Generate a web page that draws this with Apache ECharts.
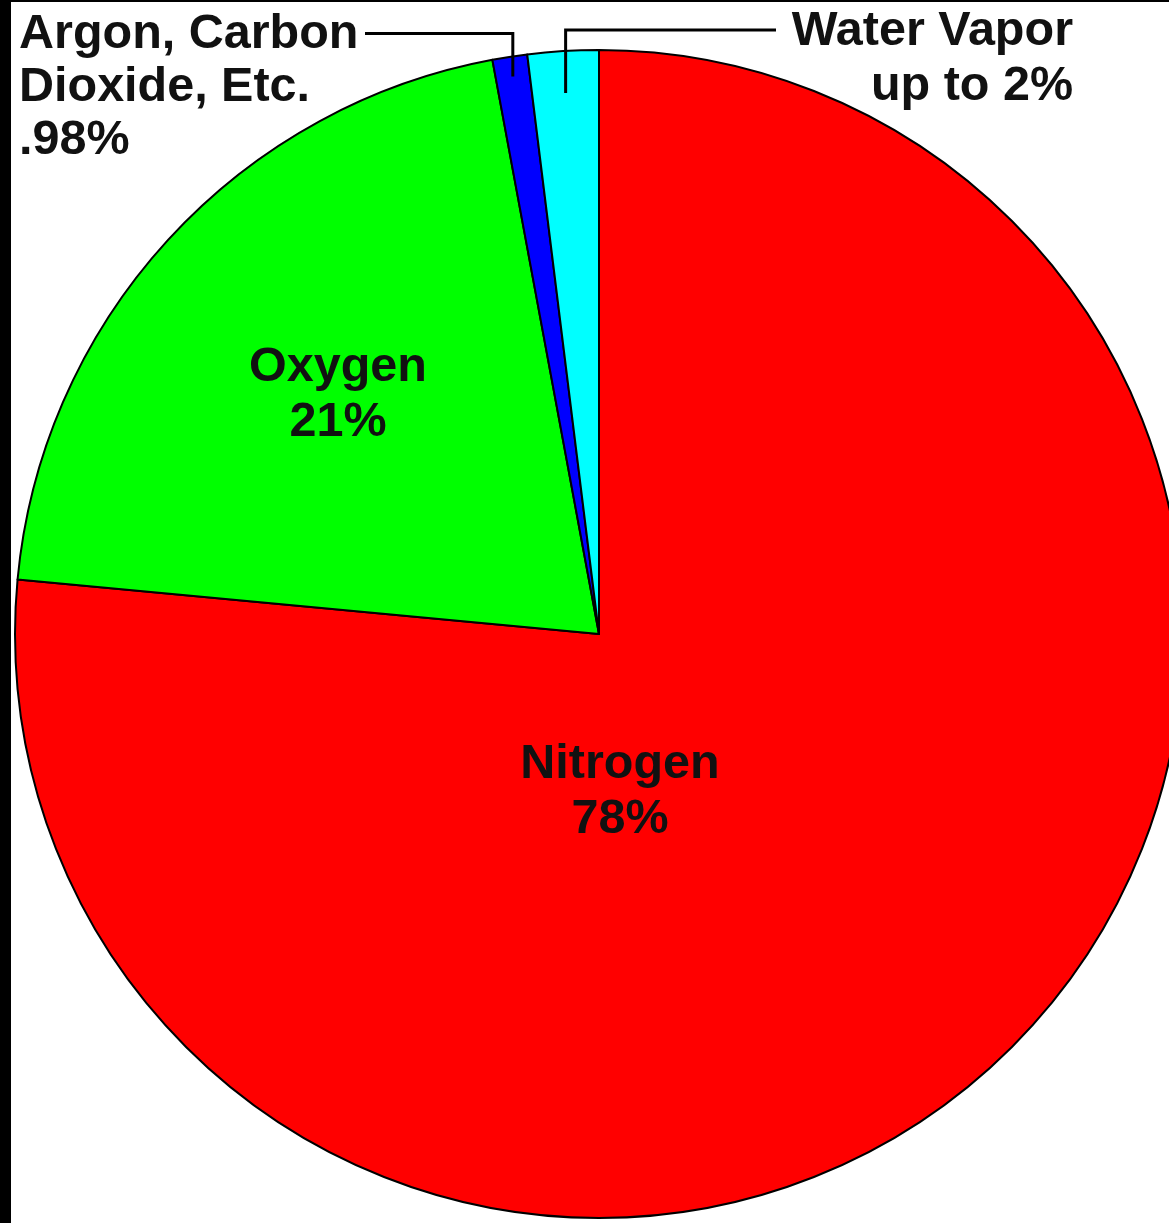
<!DOCTYPE html>
<html>
<head>
<meta charset="utf-8">
<script src="https://cdn.jsdelivr.net/npm/echarts@6/dist/echarts.min.js"></script>
<style>
  html, body { margin: 0; padding: 0; background: #000; }
  #frame { position: absolute; left: 0; top: 0; width: 1169px; height: 1223px; background: #000; overflow: hidden; }
  #main { position: absolute; left: 11px; top: 2px; width: 1158px; height: 1221px; background: #fff; }
</style>
</head>
<body>
<div id="frame"><div id="main"></div></div>
<script>
// ---- data ----
var names = ['Nitrogen', 'Oxygen', 'Argon, Carbon Dioxide, Etc.', 'Water Vapor'];
var values = [78, 21, 0.98, 2];
var labelTexts = ['Nitrogen\n78%', 'Oxygen\n21%', 'Argon, Carbon\nDioxide, Etc.\n.98%', 'Water Vapor\nup to 2%'];
var colors = ['#ff0000', '#00ff00', '#0000ff', '#00ffff'];

// ---- layout ----
var CX = 588, CY = 632, R = 584;
var FONT = 'Liberation Sans, Arial, sans-serif';

var total = values.reduce(function (a, b) { return a + b; }, 0);
function midPoint(i, r) {
  var cum = 0;
  for (var k = 0; k < i; k++) cum += values[k];
  var frac = (cum + values[i] / 2) / total;
  var th = (90 - 360 * frac) * Math.PI / 180;
  return [CX + r * Math.cos(th), CY - r * Math.sin(th)];
}

var data = names.map(function (n, i) {
  var outside = i >= 2;
  return {
    name: n,
    value: values[i],
    itemStyle: { color: colors[i] },
    label: {
      show: true,
      position: outside ? 'outside' : 'inside',
      formatter: labelTexts[i],
      lineHeight: i === 2 ? 53 : 55
    },
    labelLine: { show: false }
  };
});

// leader lines for the two small slices (start inside their wedge)
var ARGON_Y = 31.5, WATER_Y = 28;
var sA = midPoint(2, R - 20);
var sW = midPoint(3, R - 42);
var leaders = [
  [[sA[0], sA[1]], [sA[0], ARGON_Y], [354, ARGON_Y]],
  [[sW[0], sW[1]], [sW[0], WATER_Y], [765, WATER_Y]]
];

var chart = echarts.init(document.getElementById('main'));
chart.setOption({
  backgroundColor: '#ffffff',
  animation: false,
  graphic: leaders.map(function (pts) {
    return {
      type: 'polyline',
      z: 100,
      silent: true,
      shape: { points: pts },
      style: { stroke: '#000', lineWidth: 3, fill: null }
    };
  }),
  series: [{
    type: 'pie',
    center: [CX, CY],
    radius: [0, R],
    startAngle: 90,
    clockwise: true,
    avoidLabelOverlap: false,
    itemStyle: { borderColor: '#000', borderWidth: 2 },
    emphasis: { disabled: true },
    label: {
      color: '#111',
      fontFamily: FONT,
      fontWeight: 'bold',
      fontSize: 48.5
    },
    labelLayout: function (p) {
      var i = p.dataIndex;
      if (i === 0) {
        return { x: CX + 21, y: CY + 158, align: 'center', verticalAlign: 'middle' };
      }
      if (i === 1) {
        return { x: CX - 261, y: CY - 239, align: 'center', verticalAlign: 'middle' };
      }
      if (i === 2) {
        return { x: 8, y: ARGON_Y - 26.5 + 1.5, align: 'left', verticalAlign: 'top' };
      }
      if (i === 3) {
        return { x: 1062, y: WATER_Y - 27.5 + 1.5, align: 'right', verticalAlign: 'top' };
      }
    },
    data: data
  }]
});
</script>
</body>
</html>
